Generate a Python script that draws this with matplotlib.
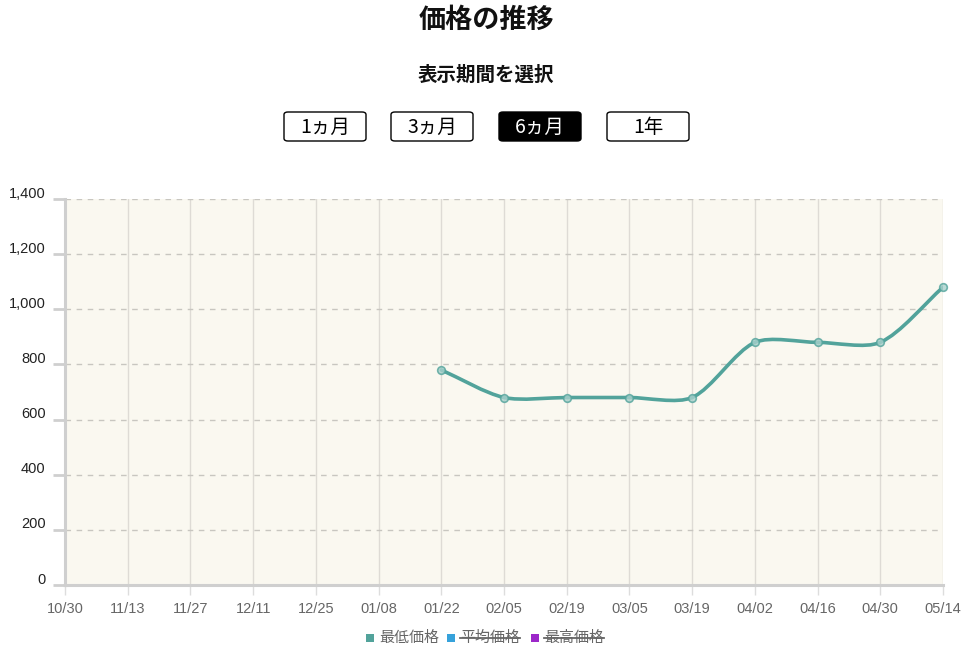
import numpy as np
import matplotlib
matplotlib.use("Agg")
import matplotlib.pyplot as plt
from matplotlib.patches import FancyBboxPatch, PathPatch
from matplotlib.path import Path
from matplotlib.lines import Line2D
from matplotlib.transforms import ScaledTranslation

plt.rcParams['font.family'] = ['Noto Sans CJK JP', 'DejaVu Sans']

# ---- data ----
date_labels = ["10/30", "11/13", "11/27", "12/11", "12/25", "01/08", "01/22",
               "02/05", "02/19", "03/05", "03/19", "04/02", "04/16", "04/30", "05/14"]
min_price = [None, None, None, None, None, None, 780,
             680, 680, 680, 680, 880, 880, 880, 1080]
y_ticks = [0, 200, 400, 600, 800, 1000, 1200, 1400]
periods = ["1ヵ月", "3ヵ月", "6ヵ月", "1年"]
active_period = "6ヵ月"
legend_names = ["最低価格", "平均価格", "最高価格"]
legend_colors = ["#52A39B", "#36A2DB", "#9C27C9"]
legend_hidden = [False, True, True]

LINE_COLOR = "#52A39B"
W, H = 973, 654

fig = plt.figure(figsize=(W / 100, H / 100), dpi=100)
ax = fig.add_axes([65 / W, 1 - 585 / H, (943 - 65) / W, (585 - 199) / H])
ax.set_facecolor("#FAF8F0")

n = len(date_labels)
ax.set_xlim(0, n - 1)
ax.set_ylim(0, 1400)

# grid
ax.set_xticks(range(n))
ax.set_xticklabels(date_labels)
ax.set_yticks(y_ticks)
ax.set_yticklabels([f"{v:,}" for v in y_ticks])
for i in range(n):
    ax.axvline(i, color="#DEDBD5", lw=1, zorder=1)
for v in y_ticks[1:]:
    ax.axhline(v, color="#C8C6C0", lw=1, ls=(0, (4, 4)), zorder=1)

for s in ["top", "right"]:
    ax.spines[s].set_visible(False)
for s in ["left", "bottom"]:
    ax.spines[s].set_color("#CFCFCF")
    ax.spines[s].set_linewidth(2.2)

ax.tick_params(axis="y", length=9, width=2, color="#CFCFCF", pad=5,
               labelsize=10.5, labelcolor="#222222")
ax.tick_params(axis="x", length=7, width=1, color="#DDDDDD", pad=5,
               labelsize=10.5, labelcolor="#666666")
for lab in ax.get_yticklabels():
    lab.set_fontfamily(["Liberation Sans", "DejaVu Sans"])
    lab.set_transform(lab.get_transform() + ScaledTranslation(0, 5 / 72, fig.dpi_scale_trans))
for lab in ax.get_xticklabels():
    lab.set_fontfamily(["Liberation Sans", "DejaVu Sans"])

# smooth line (bezier, like chart.js tension)
xs = np.array([i for i, v in enumerate(min_price) if v is not None], dtype=float)
ys = np.array([v for v in min_price if v is not None], dtype=float)
fig.canvas.draw()
pts = ax.transData.transform(np.column_stack([xs, ys]))
t = 0.28
cps = []
for i in range(len(pts)):
    prev = pts[i - 1] if i > 0 else pts[i]
    nxt = pts[i + 1] if i < len(pts) - 1 else pts[i]
    cur = pts[i]
    d01 = np.hypot(*(cur - prev))
    d12 = np.hypot(*(nxt - cur))
    tot = d01 + d12 if d01 + d12 > 0 else 1
    fa = t * d01 / tot
    fb = t * d12 / tot
    cps.append((cur - fa * (nxt - prev), cur + fb * (nxt - prev)))
verts = [pts[0]]
codes = [Path.MOVETO]
for i in range(len(pts) - 1):
    verts += [cps[i][1], cps[i + 1][0], pts[i + 1]]
    codes += [Path.CURVE4] * 3
verts = ax.transData.inverted().transform(np.array(verts))
ax.add_patch(PathPatch(Path(verts, codes), fill=False, edgecolor=LINE_COLOR,
                       lw=2.6, zorder=3, capstyle="round", joinstyle="round"))
ax.plot(xs, ys, "o", ms=5.5, mfc="#A9D1CC", mec=LINE_COLOR, mew=1.2, alpha=0.8,
        zorder=4, clip_on=False)

# titles
fig.text(486 / W, 1 - 19.5 / H, "価格の推移", ha="center", va="center",
         fontsize=19.5, fontweight="bold", color="#111111")
fig.text(486 / W, 1 - 75 / H, "表示期間を選択", ha="center", va="center",
         fontsize=14, fontweight="bold", color="#111111")

# period buttons
btn_left = [284, 391, 499, 607]
btn_w, btn_h, btn_top = 82, 29, 112
for lbl, bx in zip(periods, btn_left):
    active = lbl == active_period
    fig.patches.append(FancyBboxPatch(
        (bx / W, 1 - (btn_top + btn_h) / H), btn_w / W, btn_h / H,
        boxstyle="round,pad=0,rounding_size=0.004", transform=fig.transFigure,
        facecolor="black" if active else "white", edgecolor="black", lw=1))
    fig.text((bx + btn_w / 2) / W, 1 - (btn_top + btn_h / 2 + 1) / H, lbl,
             ha="center", va="center", fontsize=14,
             color="white" if active else "black")

# legend
leg_y = 1 - 638 / H
leg_x = [370, 451, 535]
for name, col, hid, lx in zip(legend_names, legend_colors, legend_hidden, leg_x):
    fig.patches.append(plt.Rectangle(((lx - 4) / W, leg_y - 4 / H), 8 / W, 8 / H,
                                     transform=fig.transFigure, facecolor=col, edgecolor="none"))
    tx = fig.text((lx + 9) / W, leg_y, name, ha="left", va="center",
                  fontsize=10.8, color="#666666")
    if hid:
        fig.canvas.draw()
        bb = tx.get_window_extent().transformed(fig.transFigure.inverted())
        fig.add_artist(Line2D([bb.x0, bb.x1], [leg_y, leg_y], transform=fig.transFigure,
                              color="#666666", lw=1.3))

fig.savefig("out.png", dpi=100)
